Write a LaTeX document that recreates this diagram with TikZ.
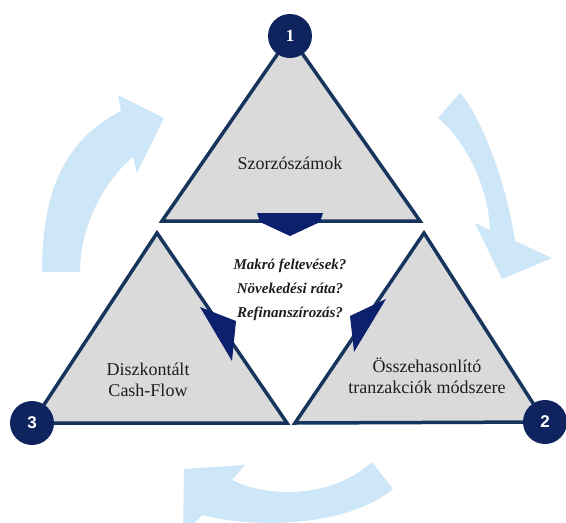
\documentclass[tikz,border=0pt]{standalone}
\usepackage{fontspec}
\setmainfont{Liberation Serif}
\setsansfont{Liberation Sans}
\definecolor{lblue}{RGB}{205,230,248}
\definecolor{edgeblue}{RGB}{22,52,92}
\definecolor{navy}{RGB}{15,35,95}
\definecolor{arrnavy}{RGB}{12,32,110}
\definecolor{trigray}{RGB}{218,218,218}
\definecolor{txt}{RGB}{30,30,30}
\tikzset{
  cyclearrow/.style={fill=lblue},
  tri/.style={fill=trigray, draw=edgeblue, line width=3.5pt, line join=miter},
  pointer/.style={fill=arrnavy},
  numcirc/.style={circle, fill=navy, minimum size=44pt, inner sep=0pt, text=white},
  label/.style={text=txt, align=center, font=\fontsize{18}{21}\selectfont},
  question/.style={text=txt, align=center, font=\fontsize{15}{24}\selectfont\bfseries\itshape}
}
\begin{document}
\begin{tikzpicture}[x=1pt,y=-1pt]
\clip (0,0) rectangle (566,523);
\fill[white] (0,0) rectangle (566,523);
% light blue cycle arrows
\fill[cyclearrow] (42,272) .. controls (42,190) and (65,140) .. (121,111) -- (118,95) -- (164,118) -- (137,173) -- (133,157) .. controls (105,180) and (80,225) .. (80,272) -- cycle;
\fill[cyclearrow] (438,118) -- (460,93) .. controls (478,112) and (505,175) .. (515,241) -- (552,258) -- (502,279) -- (475,223) -- (490,230) .. controls (488,185) and (465,140) .. (438,118) -- cycle;
\fill[cyclearrow] (372,462) -- (393,489) .. controls (350,525) and (260,530) .. (202,515) -- (183,536) -- (184,469) -- (245,465) -- (232,480) .. controls (265,497) and (330,500) .. (372,462) -- cycle;
% triangle corners
\coordinate (t1a) at (290,36);
\coordinate (t1l) at (162,221);
\coordinate (t1r) at (420,221);
\coordinate (t3a) at (157,233);
\coordinate (t3l) at (32,423);
\coordinate (t3r) at (287,423);
\coordinate (t2a) at (424,233);
\coordinate (t2l) at (295,423);
\coordinate (t2r) at (545,422);
\draw[tri] (t1a) -- (t1r) -- (t1l) -- cycle;
\draw[tri] (t3a) -- (t3r) -- (t3l) -- cycle;
\draw[tri] (t2a) -- (t2r) -- (t2l) -- cycle;
% dark pointers
\fill[pointer] (257,213) -- (323,213) -- (320,222) -- (290,236) -- (260,222) -- cycle;
\fill[pointer] (200,307) -- (236,321) -- (232,361) -- cycle;
\fill[pointer] (386,299) -- (350,316) -- (354,352) -- cycle;
% numbered circles
\node[numcirc, font=\fontsize{17}{17}\selectfont\bfseries] (n1) at (t1a) {1};
\node[numcirc, font=\sffamily\fontsize{17}{17}\selectfont\bfseries] (n2) at (t2r) {2};
\node[numcirc, font=\sffamily\fontsize{17}{17}\selectfont\bfseries] (n3) at (t3l) {3};
% labels
\node[label] (l1) at (290,163) {Szorzószámok};
\node[label] (l3) at (148,380) {Diszkontált\\Cash-Flow};
\node[label] (l2) at (427,376) {Összehasonlító\\tranzakciók módszere};
\node[question] (q) at (290,290) {Makró feltevések?\\Növekedési ráta?\\Refinanszírozás?};
\end{tikzpicture}
\end{document}
